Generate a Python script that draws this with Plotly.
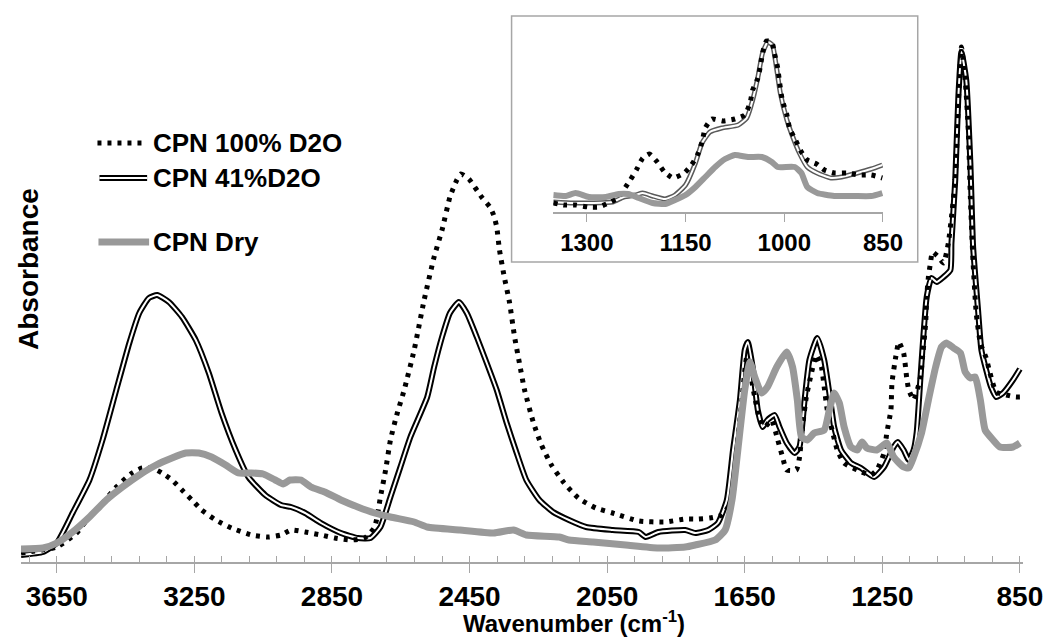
import plotly.graph_objects as go

# ---------------- main spectra (wavenumber cm-1, absorbance a.u.) ----------------
wn_41 = [3754, 3690, 3650, 3604, 3555, 3517, 3477, 3439, 3410, 3382, 3358, 3324, 3286, 3246, 3208,
         3171, 3130, 3093, 3044, 2998, 2969, 2928, 2882, 2824, 2775, 2738, 2709, 2680, 2651, 2622,
         2573, 2553, 2530, 2507, 2481, 2458, 2429, 2400, 2371, 2342, 2313, 2285, 2247, 2207, 2161,
         2111, 2034, 1958, 1938, 1901, 1823, 1794, 1756, 1728, 1702, 1684, 1664, 1650, 1641, 1627,
         1612, 1598, 1584, 1563, 1549, 1528, 1505, 1491, 1476, 1462, 1439, 1419, 1404, 1390, 1370,
         1341, 1312, 1274, 1245, 1217, 1205, 1188, 1173, 1159, 1150, 1139, 1121, 1107, 1092, 1072,
         1052, 1049, 1038, 1029, 1020, 1006, 994, 986, 971, 962, 948, 934, 919, 899, 870, 850]
abs_41 = [0.007, 0.010, 0.019, 0.049, 0.082, 0.122, 0.172, 0.219, 0.249, 0.264, 0.267, 0.260, 0.245, 0.222, 0.189,
          0.149, 0.112, 0.085, 0.067, 0.057, 0.055, 0.049, 0.039, 0.029, 0.024, 0.024, 0.035, 0.065, 0.095, 0.125,
          0.165, 0.195, 0.225, 0.249, 0.260, 0.249, 0.225, 0.199, 0.172, 0.139, 0.109, 0.082, 0.062, 0.050, 0.042,
          0.035, 0.032, 0.030, 0.025, 0.030, 0.032, 0.029, 0.032, 0.039, 0.062, 0.112, 0.162, 0.212, 0.220, 0.195,
          0.152, 0.135, 0.142, 0.147, 0.135, 0.119, 0.109, 0.115, 0.162, 0.202, 0.224, 0.202, 0.169, 0.135, 0.112,
          0.099, 0.094, 0.085, 0.095, 0.115, 0.120, 0.112, 0.102, 0.112, 0.130, 0.185, 0.265, 0.284, 0.280, 0.285,
          0.292, 0.319, 0.382, 0.465, 0.510, 0.482, 0.399, 0.315, 0.249, 0.212, 0.192, 0.175, 0.165, 0.169, 0.182, 0.193]

wn_100 = [3754, 3650, 3592, 3563, 3526, 3477, 3431, 3402, 3373, 3344, 3315, 3286, 3257, 3229, 3188,
          3142, 3084, 3035, 2998, 2969, 2928, 2882, 2842, 2796, 2755, 2726, 2709, 2694, 2680, 2660,
          2640, 2611, 2582, 2553, 2530, 2507, 2487, 2475, 2452, 2415, 2391, 2380, 2371, 2363, 2349,
          2334, 2319, 2305, 2290, 2264, 2241, 2212, 2175, 2134, 2083, 2034, 1958, 1881, 1823, 1785,
          1751, 1716, 1687, 1673, 1658, 1644, 1621, 1606, 1592, 1572, 1554, 1540, 1528, 1500, 1491,
          1482, 1471, 1456, 1442, 1427, 1419, 1410, 1396, 1381, 1361, 1323, 1283, 1266, 1245, 1237,
          1225, 1222, 1211, 1202, 1188, 1179, 1173, 1159, 1150, 1139, 1133, 1124, 1121, 1116, 1110,
          1104, 1087, 1072, 1058, 1049, 1038, 1032, 1026, 1020, 1009, 1000, 994, 986, 977, 965,
          948, 937, 919, 890, 862, 850]
abs_100 = [0.009, 0.015, 0.029, 0.042, 0.055, 0.075, 0.089, 0.094, 0.094, 0.089, 0.082, 0.072, 0.062, 0.052, 0.042,
           0.034, 0.027, 0.025, 0.027, 0.032, 0.030, 0.027, 0.024, 0.022, 0.024, 0.035, 0.065, 0.092, 0.122, 0.149,
           0.172, 0.212, 0.262, 0.305, 0.332, 0.365, 0.382, 0.388, 0.383, 0.365, 0.355, 0.347, 0.335, 0.312, 0.285,
           0.260, 0.225, 0.199, 0.172, 0.139, 0.117, 0.097, 0.079, 0.064, 0.054, 0.049, 0.041, 0.040, 0.043, 0.043,
           0.044, 0.047, 0.062, 0.112, 0.162, 0.205, 0.165, 0.142, 0.135, 0.142, 0.122, 0.105, 0.092, 0.092, 0.104,
           0.135, 0.165, 0.189, 0.207, 0.195, 0.175, 0.152, 0.132, 0.112, 0.099, 0.092, 0.087, 0.092, 0.109, 0.129,
           0.152, 0.179, 0.205, 0.220, 0.209, 0.184, 0.172, 0.162, 0.170, 0.185, 0.205, 0.239, 0.265, 0.285, 0.299,
           0.310, 0.305, 0.299, 0.319, 0.345, 0.382, 0.432, 0.482, 0.515, 0.482, 0.432, 0.365, 0.299, 0.249, 0.219,
           0.204, 0.189, 0.170, 0.167, 0.165, 0.165]

wn_dry = [3754, 3690, 3650, 3604, 3555, 3506, 3459, 3410, 3361, 3315, 3275, 3237, 3200, 3159, 3122,
          3084, 3050, 3015, 2992, 2972, 2940, 2911, 2871, 2824, 2775, 2726, 2680, 2611, 2573, 2478,
          2380, 2322, 2285, 2189, 2161, 2091, 1996, 1901, 1823, 1794, 1736, 1707, 1687, 1670, 1650,
          1635, 1621, 1601, 1584, 1557, 1528, 1511, 1497, 1485, 1468, 1448, 1419, 1404, 1390, 1375,
          1361, 1341, 1323, 1309, 1295, 1266, 1237, 1217, 1188, 1173, 1159, 1136, 1116, 1095, 1078,
          1064, 1043, 1023, 1009, 994, 980, 965, 951, 928, 908, 870, 850]
abs_dry = [0.013, 0.014, 0.019, 0.030, 0.045, 0.062, 0.075, 0.087, 0.097, 0.104, 0.109, 0.109, 0.105, 0.097, 0.089,
           0.089, 0.088, 0.082, 0.078, 0.082, 0.082, 0.075, 0.070, 0.062, 0.055, 0.049, 0.045, 0.040, 0.035, 0.032,
           0.029, 0.032, 0.027, 0.025, 0.022, 0.020, 0.017, 0.014, 0.015, 0.017, 0.022, 0.032, 0.062, 0.112, 0.172,
           0.200, 0.185, 0.169, 0.175, 0.195, 0.210, 0.195, 0.162, 0.125, 0.122, 0.129, 0.132, 0.152, 0.169, 0.159,
           0.135, 0.115, 0.112, 0.120, 0.114, 0.112, 0.119, 0.105, 0.095, 0.094, 0.105, 0.129, 0.162, 0.195, 0.215,
           0.219, 0.214, 0.209, 0.190, 0.184, 0.185, 0.162, 0.132, 0.122, 0.115, 0.115, 0.119]

# ---------------- inset (1351-850 cm-1, own absorbance scale) ----------------
wn_in_100 = [1351, 1335, 1317, 1298, 1282, 1267, 1253, 1244, 1234, 1224, 1215, 1205, 1193, 1182, 1169, 1152,
             1141, 1132, 1125, 1120, 1110, 1093, 1075, 1060, 1052, 1048, 1040, 1036, 1033, 1027, 1019, 1015,
             1010, 1007, 1003, 996, 992, 983, 974, 965, 951, 939, 924, 904, 886, 868, 851]
abs_in_100 = [0.009, 0.007, 0.007, 0.005, 0.005, 0.009, 0.014, 0.022, 0.032, 0.043, 0.054, 0.058, 0.050, 0.040, 0.034, 0.039,
              0.047, 0.057, 0.070, 0.084, 0.093, 0.091, 0.093, 0.097, 0.109, 0.122, 0.134, 0.147, 0.159, 0.171, 0.170, 0.159,
              0.144, 0.129, 0.112, 0.097, 0.084, 0.072, 0.060, 0.052, 0.048, 0.042, 0.039, 0.039, 0.037, 0.037, 0.034]

wn_in_41 = [1351, 1321, 1291, 1261, 1244, 1226, 1215, 1200, 1181, 1166, 1150, 1135, 1125, 1113, 1095, 1070,
            1057, 1048, 1040, 1033, 1025, 1018, 1012, 1006, 996, 987, 977, 965, 950, 929, 913, 889, 868, 851]
abs_in_41 = [0.010, 0.009, 0.009, 0.010, 0.015, 0.017, 0.019, 0.016, 0.013, 0.017, 0.027, 0.049, 0.069, 0.080, 0.084, 0.087,
             0.094, 0.112, 0.135, 0.159, 0.170, 0.167, 0.145, 0.119, 0.092, 0.075, 0.059, 0.045, 0.039, 0.034, 0.035, 0.039, 0.043, 0.047]

wn_in_dry = [1351, 1332, 1317, 1297, 1271, 1252, 1237, 1221, 1200, 1181, 1166, 1150, 1135, 1120, 1105, 1090,
             1075, 1055, 1034, 1019, 1010, 984, 974, 965, 950, 924, 894, 868, 851]
abs_in_dry = [0.017, 0.016, 0.019, 0.015, 0.015, 0.018, 0.018, 0.014, 0.009, 0.008, 0.012, 0.017, 0.025, 0.035, 0.045, 0.053,
              0.057, 0.055, 0.055, 0.050, 0.045, 0.045, 0.039, 0.025, 0.019, 0.016, 0.016, 0.016, 0.019]

main_ticks = [3650, 3250, 2850, 2450, 2050, 1650, 1250, 850]
inset_ticks = [1300, 1150, 1000, 850]
series_names = ["CPN 100% D2O", "CPN 41%D2O", "CPN Dry"]

# ---------------- figure geometry ----------------
# the page body adds an 8 px margin, so the figure is made 8 px smaller and
# all positions below are given in window pixels.
OFF = 8
W, H = 1055 - OFF, 638 - OFF
PX_L, PX_R, PY_T, PY_B = 21, 1030, 20, 562      # plot area in window pixels
ML, MT = PX_L - OFF, PY_T - OFF
MR, MB = W - (PX_R - OFF), H - (PY_B - OFF)
PW, PH = PX_R - PX_L, PY_B - PY_T


def fx(px):
    return (px - PX_L) / PW


def fy(py):
    return (PY_B - py) / PH


FONT = "Liberation Sans, Arial, sans-serif"
GRAY = "#999999"
AXC = "#a6a6a6"
SM = 0.5

fig = go.Figure()

# main traces
fig.add_trace(go.Scatter(x=wn_41, y=abs_41, mode="lines", line=dict(color="black", width=6, shape="spline", smoothing=SM),
                         xaxis="x", yaxis="y", hoverinfo="skip"))
fig.add_trace(go.Scatter(x=wn_41, y=abs_41, mode="lines", line=dict(color="white", width=2, shape="spline", smoothing=SM),
                         xaxis="x", yaxis="y", hoverinfo="skip"))
fig.add_trace(go.Scatter(x=wn_100, y=abs_100, mode="lines",
                         line=dict(color="black", width=5, dash="4px,6px", shape="spline", smoothing=SM),
                         xaxis="x", yaxis="y", hoverinfo="skip"))
fig.add_trace(go.Scatter(x=wn_dry, y=abs_dry, mode="lines", line=dict(color=GRAY, width=7, shape="spline", smoothing=SM),
                         xaxis="x", yaxis="y", hoverinfo="skip"))

# inset traces
fig.add_trace(go.Scatter(x=wn_in_41, y=abs_in_41, mode="lines", line=dict(color="#5a5a5a", width=5, shape="spline", smoothing=SM),
                         xaxis="x2", yaxis="y2", hoverinfo="skip"))
fig.add_trace(go.Scatter(x=wn_in_41, y=abs_in_41, mode="lines", line=dict(color="white", width=2, shape="spline", smoothing=SM),
                         xaxis="x2", yaxis="y2", hoverinfo="skip"))
fig.add_trace(go.Scatter(x=wn_in_100, y=abs_in_100, mode="lines",
                         line=dict(color="black", width=5, dash="4px,6px", shape="spline", smoothing=SM),
                         xaxis="x2", yaxis="y2", hoverinfo="skip"))
fig.add_trace(go.Scatter(x=wn_in_dry, y=abs_in_dry, mode="lines", line=dict(color=GRAY, width=6, shape="spline", smoothing=SM),
                         xaxis="x2", yaxis="y2", hoverinfo="skip"))

# helper axis for the upward part of the major ticks
fig.add_trace(go.Scatter(x=[main_ticks[-1]], y=[0], mode="markers", marker=dict(opacity=0),
                         xaxis="x3", yaxis="y", hoverinfo="skip"))

x_range = [3754, 841]

fig.update_layout(
    width=W, height=H, autosize=False,
    margin=dict(l=ML, r=MR, t=MT, b=MB, pad=0),
    paper_bgcolor="white", plot_bgcolor="white",
    showlegend=False,
    font=dict(family=FONT, color="black"),
    xaxis=dict(domain=[0, 1], range=x_range, anchor="y",
               tickmode="array", tickvals=main_ticks, ticktext=[str(t) for t in main_ticks],
               ticks="outside", ticklen=9, tickwidth=1.3, tickcolor=AXC,
               showline=True, linecolor=AXC, linewidth=1.5,
               showgrid=False, zeroline=False,
               tickfont=dict(family=FONT, size=28, color="black", weight="bold"),
               minor=dict(tickmode="linear", tick0=850, dtick=80, ticks="inside", ticklen=6,
                          tickwidth=1.3, tickcolor=AXC, showgrid=False)),
    xaxis3=dict(overlaying="x", anchor="y", range=x_range,
                tickmode="array", tickvals=main_ticks,
                ticks="inside", ticklen=6, tickwidth=1.3,
                tickcolor=AXC, showticklabels=False, showline=False, showgrid=False, zeroline=False),
    yaxis=dict(domain=[0, 1], range=[0, 0.542], visible=False, anchor="x"),
    xaxis2=dict(domain=[fx(557), fx(889)], range=[1351, 850], anchor="y2",
                tickmode="array", tickvals=inset_ticks, ticktext=[str(t) for t in inset_ticks],
                ticks="outside", ticklen=8, tickwidth=1.3, tickcolor=AXC,
                showline=True, linecolor=AXC, linewidth=1.5,
                showgrid=False, zeroline=False,
                tickfont=dict(family=FONT, size=24, color="black", weight="bold")),
    yaxis2=dict(domain=[fy(212), fy(30)], range=[0, 0.182], visible=False, anchor="x2"),
)

# inset frame
fig.add_shape(type="rect", xref="paper", yref="paper",
              x0=fx(515), x1=fx(924), y0=fy(262), y1=fy(16),
              line=dict(color=AXC, width=1.5), fillcolor="white", layer="below")

# axis titles
fig.add_annotation(text="<b>Absorbance</b>", xref="paper", yref="paper", x=fx(28), y=fy(269),
                   textangle=-90, showarrow=False, xanchor="center", yanchor="middle",
                   font=dict(family=FONT, size=28, color="black"))
fig.add_annotation(text="<b>Wavenumber (cm<sup>-1</sup>)</b>", xref="paper", yref="paper",
                   x=fx(578), y=fy(622), showarrow=False, xanchor="center", yanchor="middle",
                   font=dict(family=FONT, size=24, color="black"))

# legend (hand placed like the original)
rows = [143, 178, 242]
fig.add_shape(type="line", xref="paper", yref="paper", x0=fx(98), x1=fx(147), y0=fy(rows[0]), y1=fy(rows[0]),
              line=dict(color="black", width=5, dash="4px,6px"))
fig.add_shape(type="line", xref="paper", yref="paper", x0=fx(100), x1=fx(148), y0=fy(rows[1]), y1=fy(rows[1]),
              line=dict(color="black", width=6))
fig.add_shape(type="line", xref="paper", yref="paper", x0=fx(100), x1=fx(148), y0=fy(rows[1]), y1=fy(rows[1]),
              line=dict(color="white", width=2))
fig.add_shape(type="line", xref="paper", yref="paper", x0=fx(99), x1=fx(150), y0=fy(rows[2]), y1=fy(rows[2]),
              line=dict(color=GRAY, width=7))
for name, r in zip(series_names, rows):
    fig.add_annotation(text="<b>" + name + "</b>", xref="paper", yref="paper", x=fx(152), y=fy(r),
                       showarrow=False, xanchor="left", yanchor="middle",
                       font=dict(family=FONT, size=26, color="black"))

fig.write_html("out.html")
